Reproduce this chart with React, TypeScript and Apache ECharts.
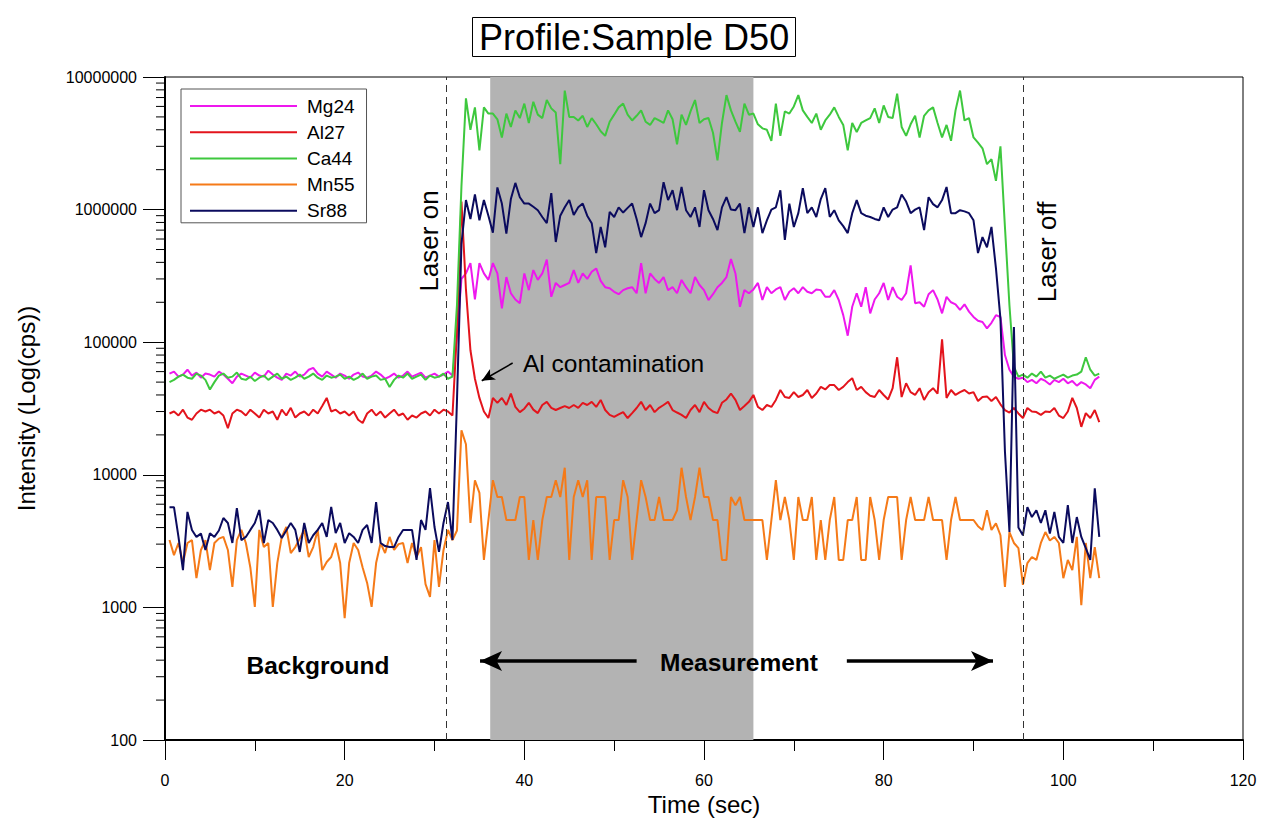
import React, { useEffect, useRef } from "react";
import * as echarts from "echarts";

const FONT = "'Liberation Sans', Arial, sans-serif";

// sampling grid of the profile (seconds)
const T_START = 0.5;
const T_STEP = 0.5;

const SERIES_NAMES = ["Mg24", "Al27", "Ca44", "Mn55", "Sr88"];
const SERIES_COLORS = ["#ee18ee", "#e3141c", "#3ec83e", "#f57a18", "#0b0b5e"];

const X_MIN = 0;
const X_MAX = 120;
const X_INTERVAL = 20;
const Y_MIN = 100;
const Y_MAX = 10000000;
const Y_DECADES = [100, 1000, 10000, 100000, 1000000];
const Y_MINOR_FACTORS = [2, 3, 4, 5, 6, 7, 8, 9];

const GRAY_START = 36.2;
const GRAY_END = 65.5;
const LASER_ON = 31.3;
const LASER_OFF = 95.5;

const MG24 = [
  58e3, 60e3, 55e3, 57e3, 62e3, 56e3, 59e3, 54e3, 58e3, 57e3,
  55e3, 60e3, 57e3, 53e3, 49e3, 55e3, 58e3, 56e3, 54e3, 59e3,
  56e3, 55e3, 61e3, 57e3, 54e3, 52e3, 58e3, 56e3, 60e3, 55e3,
  57e3, 62e3, 64e3, 58e3, 55e3, 60e3, 57e3, 54e3, 58e3, 56e3,
  53e3, 57e3, 59e3, 55e3, 54e3, 56e3, 60e3, 57e3, 53e3, 55e3,
  58e3, 54e3, 56e3, 60e3, 55e3, 57e3, 59e3, 54e3, 56e3, 58e3,
  55e3, 57e3, 60e3, 56e3, 1.1e5, 3.0e5, 3.3e5, 3.95e5, 2.1e5, 3.95e5,
  3.3e5, 2.95e5, 3.95e5, 3.3e5, 1.8e5, 3.1e5, 2.34e5, 2.1e5, 1.97e5, 3.3e5,
  2.47e5, 3.5e5, 2.95e5, 3.3e5, 4.2e5, 2.2e5, 2.8e5, 2.6e5, 2.7e5, 2.8e5,
  3.5e5, 2.8e5, 3.3e5, 3.0e5, 3.4e5, 3.6e5, 2.9e5, 2.6e5, 2.55e5, 2.4e5,
  2.3e5, 2.47e5, 2.55e5, 2.6e5, 2.34e5, 3.95e5, 2.34e5, 3.3e5, 3.0e5, 2.8e5,
  3.1e5, 2.47e5, 2.6e5, 2.34e5, 2.95e5, 2.6e5, 2.34e5, 3.1e5, 2.7e5, 2.47e5,
  2.08e5, 2.3e5, 2.6e5, 2.8e5, 3.1e5, 4.24e5, 3.3e5, 1.85e5, 2.47e5, 2.34e5,
  2.5e5, 2.8e5, 2.08e5, 2.6e5, 2.34e5, 2.5e5, 2.6e5, 2.08e5, 2.4e5, 2.55e5,
  2.34e5, 2.6e5, 2.4e5, 2.34e5, 2.5e5, 2.47e5, 2.2e5, 2.2e5, 2.47e5, 2.08e5,
  1.6e5, 1.12e5, 1.85e5, 2.34e5, 1.85e5, 2.6e5, 1.65e5, 2.1e5, 2.34e5, 2.8e5,
  2.08e5, 2.6e5, 2.2e5, 2.08e5, 2.34e5, 3.8e5, 1.97e5, 2.0e5, 1.85e5, 2.3e5,
  2.47e5, 2.1e5, 1.65e5, 2.2e5, 2.0e5, 1.93e5, 1.75e5, 1.93e5, 1.7e5, 1.55e5,
  1.45e5, 1.42e5, 1.27e5, 1.4e5, 1.6e5, 1.55e5, 8.0e4, 62e3, 55e3, 53e3,
  54e3, 50e3, 52e3, 49e3, 53e3, 51e3, 48e3, 52e3, 50e3, 53e3,
  49e3, 51e3, 47e3, 50e3, 48e3, 45e3, 52e3, 55e3,
];

const AL27 = [
  29e3, 30e3, 28e3, 31e3, 27e3, 26e3, 29e3, 31e3, 30e3, 31e3,
  29e3, 30e3, 28e3, 22.5e3, 29e3, 31e3, 30e3, 28e3, 31e3, 29e3,
  27e3, 31e3, 29e3, 30e3, 26e3, 31e3, 28e3, 32e3, 27e3, 29e3,
  30e3, 28e3, 31e3, 29e3, 33e3, 38e3, 30e3, 31e3, 29e3, 30e3,
  28e3, 30e3, 26e3, 24.6e3, 29e3, 31e3, 28e3, 30e3, 27e3, 29e3,
  31e3, 28e3, 29e3, 26e3, 28e3, 27e3, 29e3, 30e3, 28e3, 31e3,
  29e3, 31e3, 30e3, 28e3, 1.2e5, 1.15e6, 2.5e5, 8.7e4, 5.3e4, 3.8e4,
  30e3, 26.8e3, 38e3, 34.9e3, 38e3, 33.6e3, 41e3, 32.5e3, 29.7e3, 31.5e3,
  34.9e3, 31e3, 29.2e3, 33.6e3, 35.5e3, 32e3, 30.8e3, 31.9e3, 33e3, 31.9e3,
  33.6e3, 32e3, 34.9e3, 33.6e3, 35.5e3, 32.5e3, 36.7e3, 30.8e3, 28.3e3, 27.3e3,
  28.5e3, 29.7e3, 26.8e3, 29.2e3, 31.9e3, 35.5e3, 30.8e3, 33.6e3, 29.7e3, 32e3,
  33.6e3, 35.5e3, 30.8e3, 29.5e3, 28.3e3, 26.8e3, 30.8e3, 33.6e3, 29.7e3, 35.5e3,
  31.9e3, 30e3, 29.2e3, 34.9e3, 37e3, 41e3, 36.7e3, 30.8e3, 33e3, 35.5e3,
  40e3, 32.5e3, 30.8e3, 33.6e3, 32.5e3, 36.7e3, 43.6e3, 38.6e3, 38e3, 42e3,
  38.6e3, 40e3, 43.6e3, 38e3, 41e3, 46e3, 44e3, 47.5e3, 47.5e3, 43.6e3,
  46e3, 50e3, 53.5e3, 43.6e3, 46e3, 42e3, 39.5e3, 38.6e3, 43.6e3, 40e3,
  37e3, 45e3, 77e3, 38.6e3, 49e3, 42e3, 40e3, 45e3, 36.7e3, 42e3,
  45e3, 41e3, 1.05e5, 38e3, 43.6e3, 40e3, 42e3, 43.6e3, 41e3, 42e3,
  36e3, 38.6e3, 39e3, 36e3, 38.6e3, 34e3, 30.8e3, 29.5e3, 31.9e3, 29e3,
  26.8e3, 31.9e3, 30e3, 29.7e3, 28.3e3, 30e3, 29.7e3, 31.9e3, 28e3, 26.8e3,
  30e3, 38e3, 31.9e3, 23e3, 29.2e3, 26.8e3, 30.8e3, 25e3,
];

const CA44 = [
  50e3, 52e3, 55e3, 57e3, 54e3, 53e3, 58e3, 56e3, 52e3, 44e3,
  50e3, 56e3, 58e3, 54e3, 55e3, 59e3, 53e3, 52e3, 55e3, 51e3,
  54e3, 56e3, 52e3, 55e3, 58e3, 53e3, 55e3, 52e3, 54e3, 57e3,
  53e3, 55e3, 58e3, 54e3, 52e3, 56e3, 54e3, 55e3, 57e3, 53e3,
  55e3, 52e3, 54e3, 58e3, 53e3, 55e3, 56e3, 52e3, 53e3, 46e3,
  52e3, 56e3, 54e3, 58e3, 53e3, 55e3, 57e3, 52e3, 56e3, 54e3,
  55e3, 58e3, 53e3, 55e3, 1.9e5, 1.5e6, 6.9e6, 4.0e6, 5.9e6, 2.8e6,
  5.9e6, 5.3e6, 5.3e6, 4.8e6, 3.5e6, 5.3e6, 4.2e6, 5.6e6, 4.9e6, 6.3e6,
  4.5e6, 6.5e6, 5.2e6, 4.9e6, 6.7e6, 5.8e6, 5.4e6, 2.2e6, 7.9e6, 5.0e6,
  5.0e6, 4.7e6, 5.1e6, 4.2e6, 4.9e6, 4.4e6, 3.9e6, 3.6e6, 4.6e6, 5.2e6,
  5.9e6, 6.3e6, 5.2e6, 4.7e6, 5.1e6, 5.6e6, 4.6e6, 4.35e6, 4.9e6, 4.7e6,
  4.5e6, 5.6e6, 4.8e6, 3.1e6, 5.2e6, 4.35e6, 5.5e6, 6.7e6, 4.5e6, 4.8e6,
  4.9e6, 3.8e6, 2.35e6, 4.5e6, 7.3e6, 5.6e6, 4.6e6, 3.85e6, 6.3e6, 5.2e6,
  5.3e6, 4.4e6, 4.1e6, 4.0e6, 3.3e6, 6.3e6, 3.6e6, 5.5e6, 5.3e6, 6.0e6,
  7.3e6, 5.6e6, 5.0e6, 4.5e6, 5.3e6, 4.0e6, 4.7e6, 5.2e6, 5.9e6, 5.0e6,
  4.35e6, 2.8e6, 4.5e6, 3.85e6, 4.5e6, 4.7e6, 4.9e6, 5.8e6, 4.5e6, 6.1e6,
  5.0e6, 4.9e6, 7.5e6, 4.2e6, 3.6e6, 4.4e6, 5.1e6, 3.5e6, 5.1e6, 5.6e6,
  5.9e6, 4.5e6, 3.5e6, 4.35e6, 3.3e6, 5.6e6, 7.9e6, 4.7e6, 4.9e6, 3.5e6,
  3.2e6, 2.9e6, 2.2e6, 2.4e6, 1.65e6, 3.0e6, 7.4e5, 1.9e5, 6.5e4, 55e3,
  57e3, 54e3, 58e3, 55e3, 60e3, 54e3, 56e3, 53e3, 55e3, 57e3,
  54e3, 56e3, 57e3, 60e3, 77e3, 62e3, 56e3, 58e3,
];

const MN55 = [
  3220, 2480, 3060, 2160, 3060, 3220, 1660, 2710, 3220, 1910,
  3060, 3300, 3400, 2710, 1430, 3220, 3840, 3060, 2000, 1010,
  3840, 2850, 3060, 1010, 2160, 3400, 4040, 2570, 2850, 3300,
  3840, 2400, 2850, 3840, 1910, 2200, 2400, 3060, 2160, 830,
  2160, 3060, 2710, 2000, 1530, 1010, 2160, 3060, 2570, 3400,
  2710, 3000, 3060, 2160, 3060, 2400, 2850, 1500, 1200, 3220,
  1430, 2700, 3840, 3220, 3800, 21700, 17000, 4330, 9100, 7300,
  2280, 4560, 9100, 6800, 6800, 4560, 4560, 4560, 6800, 6800,
  2280, 4560, 2280, 4560, 6800, 6800, 9100, 6800, 11300, 2280,
  6800, 9100, 6800, 9100, 2280, 6800, 6800, 6800, 2280, 4560,
  4560, 9100, 6800, 2280, 4560, 9100, 6800, 4560, 4560, 6800,
  4560, 4560, 4560, 5400, 11300, 6800, 4560, 6800, 11300, 6800,
  6800, 4560, 4560, 2280, 2280, 6800, 5900, 6800, 4560, 4560,
  4560, 4560, 4560, 2280, 4560, 9100, 4560, 6800, 4560, 2280,
  6800, 4560, 4560, 6800, 2280, 4560, 2280, 4560, 6800, 2280,
  2280, 4560, 4560, 6800, 2280, 2280, 6800, 4560, 2280, 4560,
  6800, 6800, 6800, 2280, 4560, 6800, 4560, 4560, 4560, 6800,
  4560, 4560, 4560, 2280, 4560, 6800, 4560, 4560, 4560, 4560,
  4100, 3840, 5400, 3840, 4300, 3500, 1430, 3700, 3060, 2800,
  1480, 2160, 2400, 2280, 3060, 3700, 3200, 3400, 3060, 1660,
  2280, 1910, 3400, 1040, 3060, 1660, 2850, 1660,
];

const SR88 = [
  5700, 5700, 3400, 1910, 5250, 3840, 3400, 3600, 2710, 3630,
  3400, 3800, 4720, 4330, 3060, 5600, 3220, 3400, 3840, 4330,
  5430, 3060, 4560, 4330, 3840, 3340, 3800, 4330, 3840, 2620,
  4330, 3060, 3500, 3840, 4330, 3400, 5720, 3630, 4330, 3060,
  3630, 3400, 3060, 3840, 4180, 3060, 6230, 3060, 2900, 2850,
  2850, 3400, 3840, 3840, 3840, 2280, 4560, 3840, 7950, 4040,
  2620, 4330, 6230, 3220, 3.6e4, 5.5e5, 1.18e6, 8.5e5, 1.3e6, 8.3e5,
  1.18e6, 9e5, 6.7e5, 1.47e6, 1.11e6, 6.6e5, 1.2e6, 1.59e6, 1.24e6, 1.11e6,
  1.11e6, 1.05e6, 9.9e5, 8.8e5, 7.9e5, 1.33e6, 5.7e5, 9e5, 1.04e6, 1.18e6,
  9.1e5, 1.04e6, 1.11e6, 9e5, 7.9e5, 4.7e5, 7.4e5, 5.2e5, 9.6e5, 8.8e5,
  1.04e6, 9.5e5, 1.03e6, 1.11e6, 8.5e5, 6.2e5, 7.9e5, 1.11e6, 9.4e5, 9.9e5,
  1.61e6, 1.18e6, 1.4e6, 9.9e5, 1.48e6, 9.9e5, 8.8e5, 1.04e6, 7.4e5, 1.4e6,
  9.9e5, 8.5e5, 7e5, 1.04e6, 1.24e6, 1.0e6, 9.9e5, 1.11e6, 6.65e5, 1.04e6,
  7.4e5, 1.04e6, 6.65e5, 8.3e5, 1.0e6, 1.04e6, 1.4e6, 5.9e5, 1.11e6, 7.4e5,
  9.4e5, 1.45e6, 9.4e5, 1.04e6, 8.8e5, 1.2e6, 1.45e6, 8.8e5, 9.9e5, 8.3e5,
  7.5e5, 6.65e5, 9.4e5, 1.18e6, 9.4e5, 9e5, 8.8e5, 8.5e5, 8.3e5, 1.04e6,
  8.8e5, 1.0e6, 1.04e6, 1.3e6, 1.15e6, 9.4e5, 1.0e6, 1.04e6, 7e5, 1.24e6,
  1.1e6, 1.04e6, 1.18e6, 1.48e6, 9.4e5, 9.4e5, 9.9e5, 9.7e5, 9.4e5, 8.3e5,
  4.7e5, 6.2e5, 5.2e5, 7.4e5, 3.6e5, 1.5e5, 1.5e4, 3700, 1.3e5, 4000,
  3500, 5700, 4800, 5400, 4330, 5400, 3600, 5250, 3400, 3060,
  5900, 3060, 4800, 3400, 2800, 2280, 7900, 3400,
];

const SERIES_VALUES = [MG24, AL27, CA44, MN55, SR88];

// annotation arrows, in data coordinates [time, intensity]
const AL_ARROW = [[38.7, 69700], [35.26, 51200]];
const MEAS_LEFT_ARROW = [[52.5, 395], [35.07, 395]];
const MEAS_RIGHT_ARROW = [[75.9, 395], [92.17, 395]];

const toPairs = (vals: number[]) => vals.map((v, i) => [T_START + T_STEP * i, v]);

function buildOption() {
  const yMinor: number[][] = [];
  Y_DECADES.forEach((d) => Y_MINOR_FACTORS.forEach((f) => yMinor.push([X_MIN, d * f])));

  const lineSeries = SERIES_NAMES.map((name, k) => ({
    type: "line",
    name,
    data: toPairs(SERIES_VALUES[k]),
    showSymbol: false,
    symbol: "none",
    silent: true,
    z: 2,
    lineStyle: { color: SERIES_COLORS[k], width: 2 },
    itemStyle: { color: SERIES_COLORS[k] },
  }));

  const arrowItem = (pts: number[][], width: number, size: number[]) => [
    { coord: pts[0], symbol: "none", lineStyle: { color: "#000", width, type: "solid" } },
    { coord: pts[1], symbol: "arrow", symbolSize: size, lineStyle: { color: "#000", width, type: "solid" } },
  ];

  return {
    animation: false,
    textStyle: { fontFamily: FONT },
    title: {
      text: "Profile:Sample D50",
      left: 472,
      top: 17,
      padding: [1, 7, 1, 7],
      borderColor: "#000",
      borderWidth: 1,
      textStyle: { fontSize: 36, fontWeight: "normal", color: "#000", fontFamily: FONT, lineHeight: 38 },
    },
    legend: {
      data: SERIES_NAMES,
      orient: "vertical",
      left: 181,
      top: 89,
      icon: "rect",
      itemWidth: 107,
      itemHeight: 2,
      itemGap: 6.2,
      padding: [7, 12, 2, 9],
      borderColor: "#555",
      borderWidth: 1,
      backgroundColor: "#fff",
      selectedMode: false,
      textStyle: { fontSize: 19, lineHeight: 20, color: "#000", fontFamily: FONT, padding: [0, 0, 0, 5] },
    },
    grid: {
      left: 165,
      top: 77,
      width: 1078,
      height: 663,
      show: true,
      borderColor: "#000",
      borderWidth: 1,
      backgroundColor: "transparent",
      containLabel: false,
      outerBoundsMode: "none",
    },
    xAxis: {
      type: "value",
      min: X_MIN,
      max: X_MAX,
      interval: X_INTERVAL,
      name: "Time (sec)",
      nameLocation: "middle",
      nameGap: 51,
      nameTextStyle: { fontSize: 24, color: "#000", fontFamily: FONT },
      axisLine: { show: true, onZero: false, lineStyle: { color: "#000", width: 2 } },
      axisTick: { show: true, length: 20, lineStyle: { color: "#000", width: 1 } },
      minorTick: { show: true, splitNumber: 2, length: 11, lineStyle: { color: "#000", width: 1 } },
      axisLabel: { fontSize: 16, color: "#000", margin: 32, fontFamily: FONT },
      splitLine: { show: false },
      minorSplitLine: { show: false },
    },
    yAxis: {
      type: "log",
      logBase: 10,
      min: Y_MIN,
      max: Y_MAX,
      name: "Intensity (Log(cps))",
      nameLocation: "middle",
      nameGap: 127,
      nameTextStyle: { fontSize: 24, color: "#000", fontFamily: FONT },
      axisLine: { show: true, onZero: false, lineStyle: { color: "#000", width: 2 } },
      axisTick: { show: true, length: 22, lineStyle: { color: "#000", width: 1 } },
      axisLabel: {
        fontSize: 16,
        color: "#000",
        margin: 28,
        fontFamily: FONT,
        formatter: (v: number) => String(Math.round(v)),
      },
      splitLine: { show: false },
    },
    graphic: [
      {
        type: "text",
        x: 429,
        y: 241,
        rotation: Math.PI / 2,
        z: 10,
        style: { text: "Laser on", fontSize: 26, fontFamily: FONT, fill: "#000", align: "center", verticalAlign: "middle" },
      },
      {
        type: "text",
        x: 1047,
        y: 252,
        rotation: Math.PI / 2,
        z: 10,
        style: { text: "Laser off", fontSize: 26, fontFamily: FONT, fill: "#000", align: "center", verticalAlign: "middle" },
      },
      {
        type: "text",
        x: 523,
        y: 363,
        z: 10,
        style: { text: "Al contamination", fontSize: 24.5, fontFamily: FONT, fill: "#000", align: "left", verticalAlign: "middle" },
      },
      {
        type: "text",
        x: 318,
        y: 665,
        z: 10,
        style: { text: "Background", fontSize: 24.5, fontWeight: "bold", fontFamily: FONT, fill: "#000", align: "center", verticalAlign: "middle" },
      },
      {
        type: "text",
        x: 739,
        y: 662,
        z: 10,
        style: { text: "Measurement", fontSize: 24.5, fontWeight: "bold", fontFamily: FONT, fill: "#000", align: "center", verticalAlign: "middle" },
      },
    ],
    series: [
      {
        type: "line",
        name: "band",
        data: [],
        z: 1,
        silent: true,
        markArea: {
          silent: true,
          itemStyle: { color: "#b3b3b3", opacity: 1 },
          data: [[{ xAxis: GRAY_START }, { xAxis: GRAY_END }]],
        },
        markLine: {
          silent: true,
          symbol: ["none", "none"],
          label: { show: false },
          lineStyle: { color: "#333", width: 1, type: [7, 5] },
          data: [{ xAxis: LASER_ON }, { xAxis: LASER_OFF }],
        },
      },
      {
        type: "custom",
        name: "yMinorTicks",
        silent: true,
        clip: false,
        z: 3,
        data: yMinor,
        renderItem: (_params: any, api: any) => {
          const p = api.coord([api.value(0), api.value(1)]);
          return {
            type: "line",
            shape: { x1: p[0] - 9, y1: p[1], x2: p[0], y2: p[1] },
            style: { stroke: "#000", lineWidth: 1 },
          };
        },
      },
      ...lineSeries,
      {
        type: "line",
        name: "arrows",
        data: [],
        z: 5,
        silent: true,
        markLine: {
          silent: true,
          label: { show: false },
          symbol: ["none", "arrow"],
          data: [
            arrowItem(AL_ARROW, 1.5, [9, 13]),
            arrowItem(MEAS_LEFT_ARROW, 3.5, [15, 22]),
            arrowItem(MEAS_RIGHT_ARROW, 3.5, [15, 22]),
          ],
        },
      },
    ],
  };
}

export default function App() {
  const ref = useRef<HTMLDivElement>(null);
  useEffect(() => {
    if (!ref.current) return;
    const chart = echarts.init(ref.current, undefined, { renderer: "svg" });
    chart.setOption(buildOption() as any);
    return () => chart.dispose();
  }, []);
  return (
    <div
      ref={ref}
      style={{ position: "fixed", left: 0, top: 0, width: 1265, height: 818, background: "#fff" }}
    />
  );
}
